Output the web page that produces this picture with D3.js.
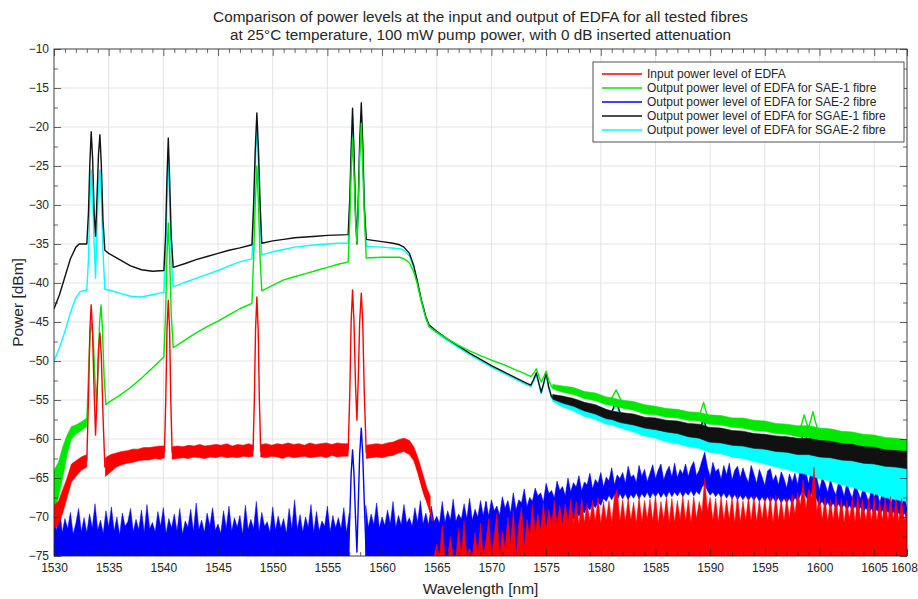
<!DOCTYPE html>
<meta charset="utf-8">
<script src="https://d3js.org/d3.v7.min.js"></script>
<style>
body { margin: 0; background: #fff; }
svg text { font-family: "Liberation Sans", Arial, Helvetica, sans-serif; fill: #262626; }
.axis path { display: none; }
.axis line { stroke: #262626; stroke-width: 0.7; }
.axis text { font-size: 12px; }
.grid line { stroke: #e3e3e3; stroke-width: 1; }
</style>
<div id="chart"></div>
<script>

// ---- data ----
var titleLines = [
  "Comparison of power levels at the input and output of EDFA for all tested fibres",
  "at 25\u00B0C temperature, 100 mW pump power, with 0 dB inserted attenuation"
];
var xTicks = [1530, 1535, 1540, 1545, 1550, 1555, 1560, 1565, 1570, 1575, 1580, 1585, 1590, 1595, 1600, 1605, 1608];
var yTicks = [-10, -15, -20, -25, -30, -35, -40, -45, -50, -55, -60, -65, -70, -75];
var legendLabels = [
  "Input power level of EDFA",
  "Output power level of EDFA for SAE-1 fibre",
  "Output power level of EDFA for SAE-2 fibre",
  "Output power level of EDFA for SGAE-1 fibre",
  "Output power level of EDFA for SGAE-2 fibre"
];
var seriesColors = ["#ff0000", "#00e800", "#0000ff", "#111111", "#00ffff"];

// SGAE-1 (black): smooth trace [nm, dBm]
var blackTrace = [[1530.0,-43.3],[1530.5,-41.5],[1531.0,-39.2],[1531.5,-36.9],[1532.0,-35.4],[1532.3,-35.0],[1533.0,-35.0],
  [1533.15,-31],[1533.27,-25],[1533.4,-20.6],[1533.53,-24],[1533.67,-31],[1533.8,-34.0],[1533.93,-29],[1534.07,-23.5],[1534.2,-21.0],
  [1534.33,-25],[1534.48,-32],[1534.65,-35.8],[1535,-36.2],[1536,-37.0],[1537,-37.8],[1538,-38.3],[1539,-38.5],[1540.05,-38.4],
  [1540.2,-34],[1540.32,-27],[1540.45,-21.4],[1540.58,-27],[1540.72,-34],[1540.9,-38.0],[1542,-37.5],[1543,-37.0],[1544,-36.6],
  [1545,-36.2],[1546,-35.8],[1547,-35.5],[1548.1,-35.1],[1548.25,-30],[1548.4,-23],[1548.55,-18.2],[1548.7,-23],[1548.85,-30],
  [1549.0,-34.9],[1550,-34.6],[1551,-34.4],[1552,-34.2],[1553,-34.1],[1554,-34.0],[1555,-33.9],[1556.9,-33.8],[1557.05,-29],
  [1557.17,-23],[1557.3,-17.6],[1557.43,-23],[1557.57,-31],[1557.7,-35.0],[1557.83,-29],[1557.95,-22],[1558.1,-16.9],[1558.23,-22],
  [1558.37,-30],[1558.55,-34.4],[1559,-34.5],[1560,-34.7],[1561,-34.9],[1561.6,-35.1],[1562.0,-35.4],[1562.5,-36.2],[1562.9,-37.8],
  [1563.2,-39.6],[1563.6,-42.2],[1564.0,-44.3],[1564.3,-45.4],[1565,-46.2],[1566,-47.2],[1567,-48.1],[1568,-49.0],[1569,-49.8],
  [1570,-50.6],[1571,-51.3],[1572,-52.0],[1573,-52.7],[1573.6,-53.1],[1573.85,-52.4],[1574.1,-51.5],[1574.35,-52.9],[1574.55,-54.0],
  [1574.8,-52.7],[1575.0,-51.5],[1575.25,-53.4],[1575.5,-54.6],[1578,-55.8],[1580.8,-56.9],[1581.1,-56.2],[1581.4,-55.0],[1581.7,-56.4],
  [1582,-57.2],[1585,-58.1],[1589.0,-59.0],[1589.2,-58.3],[1589.4,-57.2],[1589.6,-58.4],[1589.9,-59.4],[1595,-60.4],[1598.2,-60.9],
  [1598.4,-60.0],[1598.6,-58.6],[1598.8,-59.8],[1599.0,-60.6],[1599.2,-59.7],[1599.4,-58.5],[1599.6,-59.8],[1599.9,-61.0],[1603,-61.7],[1608,-62.4]];
// SGAE-1 noisy band [nm, low, high]
var blackBand = [[1575.6,-54.9,-54.3],[1576.5,-55.4,-54.5],[1577.5,-55.8,-54.8],[1578.5,-56.4,-55.3],[1579.5,-56.8,-55.6],[1580.5,-57.4,-56.2],
  [1581.0,-57.5,-56.4],[1581.8,-57.9,-56.6],[1583,-58.2,-56.8],[1584,-58.6,-57.2],[1585,-58.8,-57.3],[1586,-59.1,-57.6],[1587,-59.3,-57.7],
  [1588,-59.7,-58.0],[1589,-59.9,-58.1],[1589.9,-60.4,-58.5],[1591,-60.5,-58.6],[1592,-60.8,-58.9],[1593,-60.9,-59.0],[1594,-61.2,-59.3],
  [1595,-61.3,-59.4],[1596,-61.6,-59.6],[1597,-61.7,-59.7],[1598,-62.0,-59.9],[1599,-62.0,-59.9],[1600,-62.3,-60.1],[1601,-62.4,-60.2],
  [1602,-62.7,-60.4],[1603,-62.8,-60.4],[1604,-63.1,-60.6],[1605,-63.2,-60.6],[1606,-63.5,-60.9],[1607,-63.6,-60.9],[1608,-63.8,-61.1]];

// SGAE-2 (cyan)
var cyanTrace = [[1530.0,-50.0],[1530.5,-48.3],[1531.0,-46.2],[1531.5,-43.8],[1532.0,-41.9],[1532.4,-41.1],[1533.0,-40.9],
  [1533.15,-37],[1533.27,-30],[1533.4,-25.5],[1533.53,-29],[1533.67,-35],[1533.8,-39.4],[1533.93,-33],[1534.07,-27.5],[1534.2,-25.5],
  [1534.33,-29],[1534.48,-36],[1534.65,-40.8],[1535,-40.9],[1536,-41.3],[1537,-41.7],[1538,-41.8],[1539,-41.5],[1540.05,-41.2],
  [1540.2,-37],[1540.32,-30],[1540.45,-23.8],[1540.58,-30],[1540.72,-37],[1540.9,-40.5],[1542,-39.9],[1543,-39.4],[1544,-38.9],
  [1545,-38.4],[1546,-37.8],[1547,-37.3],[1548.1,-36.9],[1548.25,-32],[1548.4,-25],[1548.55,-20.0],[1548.7,-25],[1548.85,-32],
  [1549.0,-36.4],[1550,-36.0],[1551,-35.7],[1552,-35.4],[1554,-35.1],[1556,-34.9],[1556.9,-34.9],[1557.05,-30],[1557.17,-24],
  [1557.3,-18.7],[1557.43,-24],[1557.57,-31],[1557.7,-34.8],[1557.83,-30],[1557.95,-23],[1558.1,-18.2],[1558.23,-23],[1558.37,-30],
  [1558.55,-35.3],[1560,-35.4],[1561.6,-35.6],[1562.0,-35.8],[1562.5,-36.5],[1562.9,-38.0],[1563.2,-39.9],[1563.6,-42.4],
  [1564.0,-44.5],[1564.3,-45.6],[1565,-46.4],[1566,-47.4],[1567,-48.3],[1568,-49.2],[1569,-50.0],[1570,-50.8],[1571,-51.5],
  [1572,-52.2],[1573,-52.9],[1573.6,-53.3],[1573.85,-52.6],[1574.1,-51.8],[1574.35,-53.1],[1574.55,-54.2],[1574.8,-52.9],
  [1575.0,-51.8],[1575.25,-53.6],[1575.5,-54.8],[1578,-56.3],[1580.8,-57.4],[1581.1,-56.5],[1581.4,-55.5],[1581.7,-56.7],
  [1582,-57.8],[1585,-59.1],[1589.0,-60.2],[1589.2,-59.0],[1589.4,-57.8],[1589.6,-59.2],[1589.9,-60.6],[1595,-61.8],[1598.2,-62.6],
  [1598.4,-61.2],[1598.6,-60.0],[1598.8,-61.3],[1599.0,-62.4],[1599.2,-61.0],[1599.4,-59.8],[1599.6,-61.2],[1599.9,-63.0],[1604,-64.3],[1608,-65.6]];
var cyanBand = [[1575.6,-55.2,-54.4],[1576.5,-55.9,-54.8],[1577.5,-56.4,-55.1],[1578.5,-57.1,-55.7],[1579.5,-57.5,-56.0],[1580.5,-58.1,-56.6],
  [1581.0,-58.2,-56.8],[1581.8,-58.6,-57.0],[1583,-59.1,-57.4],[1584,-59.6,-58.0],[1585,-59.9,-58.3],[1586,-60.4,-58.7],[1587,-60.6,-58.8],
  [1588,-61.0,-59.1],[1589,-61.2,-59.2],[1589.9,-61.7,-59.6],[1591,-61.9,-59.7],[1592,-62.3,-60.0],[1593,-62.5,-60.0],[1594,-62.9,-60.3],
  [1595,-63.2,-60.4],[1596,-63.6,-60.7],[1597,-63.9,-60.8],[1598,-64.3,-61.1],[1599,-64.6,-61.2],[1600,-65.1,-61.5],[1601,-65.4,-61.6],
  [1602,-65.9,-62.0],[1603,-66.2,-62.1],[1604,-66.7,-62.4],[1605,-67.0,-62.5],[1606,-67.5,-62.8],[1607,-67.8,-62.9],[1608,-68.0,-63.2]];

// SAE-1 (green)
var greenBandLeft = [[1530.0,-69.5,-64.0],[1530.4,-67.5,-63.0],[1530.8,-65.0,-61.0],[1531.2,-62.0,-59.5],[1531.6,-60.0,-58.4],
  [1532.0,-59.4,-58.2],[1532.5,-58.9,-57.8],[1533.0,-58.4,-57.3]];
var greenTrace = [[1533.0,-57.8],[1533.15,-52],[1533.3,-46.5],[1533.45,-45.1],[1533.6,-47.5],[1533.75,-52.5],[1533.9,-55.4],
  [1534.03,-51],[1534.17,-45],[1534.3,-42.8],[1534.43,-46],[1534.58,-52],[1534.75,-55.6],[1535,-55.3],[1536,-54.4],[1537,-53.4],
  [1538,-52.2],[1539,-50.9],[1540.05,-49.5],[1540.2,-44],[1540.32,-37],[1540.45,-32.3],[1540.58,-37],[1540.72,-44],[1540.9,-48.3],
  [1542,-47.3],[1543,-46.4],[1544,-45.6],[1545,-44.9],[1546,-44.1],[1547,-43.3],[1548.1,-42.6],[1548.25,-37],[1548.4,-30],
  [1548.55,-25.0],[1548.7,-30],[1548.85,-37],[1549.0,-41.0],[1550,-40.3],[1551,-39.6],[1552,-39.2],[1553,-38.8],[1554,-38.4],
  [1555,-38.0],[1556,-37.6],[1556.9,-37.3],[1557.05,-32],[1557.17,-26],[1557.3,-21.4],[1557.43,-26],[1557.57,-32],[1557.7,-34.9],
  [1557.83,-30],[1557.95,-24],[1558.1,-19.5],[1558.23,-25],[1558.37,-31],[1558.55,-36.8],[1560,-36.7],[1561.6,-36.7],[1562.0,-36.9],
  [1562.5,-37.4],[1562.9,-38.6],[1563.2,-40.0],[1563.6,-42.4],[1564.0,-44.5],[1564.3,-45.6],[1565,-46.3],[1566,-47.2],[1567,-48.0],
  [1568,-48.7],[1569,-49.3],[1570,-49.9],[1571,-50.4],[1572,-51.0],[1573,-51.6],[1573.6,-52.0],[1573.85,-51.6],[1574.1,-51.0],
  [1574.35,-52.0],[1574.55,-52.7],[1574.8,-52.0],[1575.0,-51.3],[1575.25,-52.5],[1575.5,-53.3],[1578,-54.1],[1580.8,-55.1],
  [1581.1,-54.5],[1581.4,-53.7],[1581.7,-54.6],[1582,-55.4],[1585,-56.4],[1589.0,-57.1],[1589.2,-56.2],[1589.4,-55.3],[1589.6,-56.4],
  [1589.9,-57.4],[1595,-58.4],[1598.2,-58.9],[1598.4,-57.9],[1598.6,-56.9],[1598.8,-57.9],[1599.0,-58.6],[1599.2,-57.6],[1599.4,-56.5],
  [1599.6,-57.7],[1599.9,-59.0],[1604,-59.9],[1608,-60.8]];
var greenBand = [[1575.6,-53.6,-53.0],[1576.5,-54.0,-53.2],[1577.5,-54.3,-53.4],[1578.5,-54.8,-53.9],[1579.5,-55.1,-54.1],[1580.5,-55.6,-54.6],
  [1581.0,-55.7,-54.7],[1581.8,-56.0,-55.0],[1583,-56.3,-55.2],[1584,-56.8,-55.6],[1585,-56.9,-55.8],[1586,-57.2,-56.1],[1587,-57.3,-56.2],
  [1588,-57.6,-56.5],[1589,-57.7,-56.6],[1589.9,-58.1,-56.9],[1591,-58.2,-57.0],[1592,-58.5,-57.3],[1593,-58.6,-57.3],[1594,-58.9,-57.6],
  [1595,-59.0,-57.7],[1596,-59.3,-58.0],[1597,-59.4,-58.1],[1598,-59.7,-58.3],[1599,-59.8,-58.3],[1600,-60.1,-58.6],[1601,-60.2,-58.7],
  [1602,-60.5,-59.0],[1603,-60.6,-59.1],[1604,-60.9,-59.4],[1605,-61.0,-59.5],[1606,-61.3,-59.8],[1607,-61.4,-59.9],[1608,-61.5,-60.1]];

// SAE-2 (blue): noise tops [nm, high], filled down to the axis floor
var blueFillLeft = [
  [1530,-69.0],[1530.25,-71.8],[1530.5,-68.6],[1530.75,-72.0],[1531,-70.2],[1531.25,-71.5],[1531.5,-69.4],[1531.75,-72.2],
  [1532,-70.8],[1532.25,-68.9],[1532.5,-71.9],[1532.75,-70.1],[1533,-72.0],[1533.25,-69.6],[1533.5,-71.4],[1533.75,-68.3],
  [1534,-71.7],[1534.25,-70.4],[1534.5,-72.1],[1534.75,-69.2],[1535,-71.3],[1535.25,-68.7],[1535.5,-71.8],[1535.75,-70.0],
  [1536,-72.3],[1536.25,-69.5],[1536.5,-71.2],[1536.75,-70.6],[1537,-68.9],[1537.25,-71.9],[1537.5,-70.3],[1537.75,-71.6],
  [1538,-69.1],[1538.25,-72.0],[1538.5,-68.4],[1538.75,-71.5],[1539,-70.7],[1539.25,-71.9],[1539.5,-69.3],[1539.75,-71.2],
  [1540,-68.8],[1540.25,-72.1],[1540.5,-70.2],[1540.75,-71.4],[1541,-69.6],[1541.25,-71.8],[1541.5,-68.9],[1541.75,-72.2],
  [1542,-70.5],[1542.25,-71.3],[1542.5,-69.0],[1542.75,-71.9],[1543,-68.2],[1543.25,-71.6],[1543.5,-70.4],[1543.75,-72.0],
  [1544,-69.5],[1544.25,-71.2],[1544.5,-68.8],[1544.75,-71.7],[1545,-70.9],[1545.25,-72.1],[1545.5,-69.2],[1545.75,-71.4],
  [1546,-68.6],[1546.25,-71.8],[1546.5,-70.1],[1546.75,-71.3],[1547,-69.8],[1547.25,-72.2],[1547.5,-68.5],[1547.75,-71.6],
  [1548,-70.3],[1548.25,-71.5],[1548.5,-68.0],[1548.75,-71.9],[1549,-69.4],[1549.25,-71.2],[1549.5,-70.6],[1549.75,-72.0],
  [1550,-68.7],[1550.25,-71.7],[1550.5,-69.9],[1550.75,-71.4],[1551,-70.2],[1551.25,-72.1],[1551.5,-68.9],[1551.75,-71.5],
  [1552,-67.8],[1552.25,-71.6],[1552.5,-69.7],[1552.75,-71.9],[1553,-70.0],[1553.25,-71.3],[1553.5,-68.4],[1553.75,-72.0],
  [1554,-69.3],[1554.25,-71.8],[1554.5,-70.5],[1554.75,-71.2],[1555,-68.6],[1555.25,-71.9],[1555.5,-69.8],[1555.75,-71.4],
  [1556,-70.1],[1556.25,-71.5],[1556.5,-68.8],[1556.75,-72.0],[1557,-69.5]];
var blueFillMid = [
  [1558.5,-68.5],[1558.75,-71.3],[1559,-69.6],[1559.25,-71.0],[1559.5,-68.2],[1559.75,-71.4],[1560,-70.0],[1560.25,-71.1],
  [1560.5,-69.1],[1560.75,-70.9],[1561,-68.0],[1561.25,-71.3],[1561.5,-69.8],[1561.75,-71.0],[1562,-68.4],[1562.25,-70.8],
  [1562.5,-70.1],[1562.75,-71.2],[1563,-68.8],[1563.25,-70.7],[1563.5,-67.9],[1563.75,-70.9],[1564,-69.5],[1564.25,-71.0],
  [1564.5,-68.6],[1564.75,-70.6],[1565,-69.9],[1565.25,-70.8],[1565.5,-68.0],[1565.75,-70.7],[1566,-69.2],[1566.25,-70.4],
  [1566.5,-67.7],[1566.75,-70.5],[1567,-69.6],[1567.25,-70.3],[1567.5,-68.3],[1567.75,-70.2],[1568,-67.6],[1568.25,-70.4],
  [1568.5,-69.0],[1568.75,-70.0],[1569,-67.9],[1569.25,-69.8],[1569.5,-68.0]];
var bluePeaks = [[1556.9,-75],[1557.05,-70],[1557.17,-64.5],[1557.3,-61.4],[1557.43,-64.5],[1557.57,-70],[1557.7,-74.5],
  [1557.83,-68],[1557.95,-62],[1558.1,-58.6],[1558.23,-62],[1558.37,-68],[1558.55,-75]];
// [nm, low, high]
var blueBandRight = [
  [1569.5,-75,-68.0],[1569.75,-75,-69.9],
  [1570,-75,-67.8],[1570.25,-75,-69.2],[1570.5,-75,-68.6],[1570.75,-75,-69.8],
  [1571,-75,-67.4],[1571.25,-75,-68.9],[1571.5,-75,-67.9],[1571.75,-75,-69.5],
  [1572,-75,-66.9],[1572.25,-75,-69.1],[1572.5,-75,-67.8],[1572.75,-75,-68.2],
  [1573,-75,-66.4],[1573.25,-75,-68.7],[1573.5,-75,-67.5],[1573.75,-74.5,-68.0],
  [1574,-75,-66.3],[1574.25,-73.5,-67.3],[1574.5,-74.2,-66.9],[1574.75,-72.8,-68.1],
  [1575,-73.6,-65.7],[1575.25,-72.0,-67.0],[1575.5,-72.9,-66.6],[1575.75,-71.2,-67.6],
  [1576,-72.1,-65.4],[1576.25,-70.6,-66.6],[1576.5,-71.4,-66.1],[1576.75,-70.1,-67.3],
  [1577,-70.9,-65.0],[1577.25,-69.8,-66.8],[1577.5,-70.3,-65.6],[1577.75,-69.4,-66.2],
  [1578,-69.9,-64.7],[1578.25,-69.0,-66.7],[1578.5,-69.5,-65.5],[1578.75,-68.7,-65.9],
  [1579,-69.1,-64.4],[1579.25,-68.4,-66.4],[1579.5,-68.8,-65.2],[1579.75,-68.1,-65.7],
  [1580,-68.5,-64.3],[1580.25,-67.6,-66.2],[1580.5,-68.0,-64.9],[1580.75,-67.2,-65.4],
  [1581,-67.8,-63.7],[1581.25,-67.1,-65.9],[1581.5,-67.9,-64.6],[1581.75,-67.0,-65.1],
  [1582,-67.7,-64.3],[1582.25,-67.0,-65.7],[1582.5,-67.8,-63.5],[1582.75,-67.1,-64.9],
  [1583,-67.6,-64.6],[1583.25,-66.9,-65.6],[1583.5,-67.7,-63.4],[1583.75,-67.0,-64.8],
  [1584,-67.5,-63.9],[1584.25,-66.8,-65.5],[1584.5,-67.6,-64.4],[1584.75,-66.9,-63.3],
  [1585,-67.4,-65.1],[1585.25,-66.8,-64.0],[1585.5,-67.5,-63.2],[1585.75,-66.9,-65.3],
  [1586,-67.5,-64.2],[1586.25,-66.7,-63.5],[1586.5,-67.4,-64.9],[1586.75,-66.8,-63.1],
  [1587,-67.3,-65.0],[1587.25,-66.7,-63.9],[1587.5,-67.4,-64.5],[1587.75,-66.8,-63.2],
  [1588,-67.2,-64.8],[1588.25,-66.6,-63.6],[1588.5,-67.3,-62.9],[1588.75,-66.7,-64.7],
  [1589,-67.1,-64.0],[1589.25,-66.2,-62.8],[1589.5,-65.8,-61.7],[1589.75,-66.6,-63.6],
  [1590,-67.2,-64.9],[1590.25,-66.8,-63.0],[1590.5,-67.4,-64.2],[1590.75,-66.9,-63.8],
  [1591,-67.5,-65.2],[1591.25,-66.9,-63.4],[1591.5,-67.6,-64.6],[1591.75,-67.0,-63.1],
  [1592,-67.7,-65.3],[1592.25,-67.1,-64.0],[1592.5,-67.8,-63.5],[1592.75,-67.2,-65.0],
  [1593,-67.8,-63.7],[1593.25,-67.2,-64.8],[1593.5,-67.9,-65.6],[1593.75,-67.3,-63.4],
  [1594,-67.9,-64.5],[1594.25,-67.3,-65.7],[1594.5,-68.0,-63.9],[1594.75,-67.4,-64.9],
  [1595,-68.0,-66.0],[1595.25,-67.4,-64.1],[1595.5,-68.1,-63.8],[1595.75,-67.5,-65.4],
  [1596,-68.1,-64.6],[1596.25,-67.5,-65.9],[1596.5,-68.2,-64.2],[1596.75,-67.6,-65.1],
  [1597,-68.2,-66.3],[1597.25,-67.6,-64.5],[1597.5,-68.3,-65.5],[1597.75,-67.5,-64.4],
  [1598,-68.0,-65.9],[1598.25,-67.2,-63.8],[1598.5,-66.5,-62.2],[1598.75,-67.4,-64.2],
  [1599,-67.9,-65.8],[1599.25,-67.0,-63.9],[1599.5,-66.8,-63.0],[1599.75,-67.8,-65.0],
  [1600,-68.5,-66.6],[1600.25,-68.0,-65.0],[1600.5,-68.7,-65.7],[1600.75,-68.1,-66.9],
  [1601,-68.8,-65.2],[1601.25,-68.2,-66.4],[1601.5,-68.9,-67.2],[1601.75,-68.3,-65.5],
  [1602,-69.0,-66.1],[1602.25,-68.4,-67.4],[1602.5,-69.1,-65.6],[1602.75,-68.5,-66.8],
  [1603,-69.2,-67.6],[1603.25,-68.6,-65.9],[1603.5,-69.3,-66.7],[1603.75,-68.7,-67.7],
  [1604,-69.4,-66.2],[1604.25,-68.8,-67.1],[1604.5,-69.5,-68.1],[1604.75,-68.9,-66.4],
  [1605,-69.6,-67.5],[1605.25,-69.0,-66.5],[1605.5,-69.7,-68.3],[1605.75,-69.1,-66.8],
  [1606,-69.8,-67.9],[1606.25,-69.2,-66.6],[1606.5,-69.9,-68.5],[1606.75,-69.3,-67.2],
  [1607,-70.0,-68.2],[1607.25,-69.4,-66.9],[1607.5,-70.1,-68.7],[1607.75,-69.5,-67.3],
  [1608,-70.2,-68.9]];

// input (red)
var redBandLeft = [[1530.0,-71.5,-68.5],[1530.4,-71.0,-68.0],[1530.8,-69.5,-66.5],[1531.2,-67.5,-65.0],[1531.6,-65.5,-63.2],
  [1532.0,-64.8,-62.8],[1532.5,-64.0,-62.3],[1533.0,-63.6,-62.0]];
var redTrace = [[1533.0,-62.8],[1533.15,-55],[1533.28,-46],[1533.4,-42.8],[1533.52,-46],[1533.65,-53],[1533.8,-59.5],[1533.95,-54],
  [1534.07,-48.5],[1534.2,-46.4],[1534.33,-49.5],[1534.48,-57],[1534.65,-63.6],[1535.5,-62.9],[1537,-62.2],[1539,-61.8],[1540.1,-61.6],
  [1540.22,-55],[1540.33,-46],[1540.45,-42.2],[1540.57,-46],[1540.68,-55],[1540.8,-61.7],[1544,-61.6],[1548.2,-61.5],[1548.32,-55],
  [1548.43,-46],[1548.55,-41.8],[1548.67,-46],[1548.78,-55],[1548.9,-61.5],[1553,-61.4],[1556.9,-61.4],[1557.05,-54],[1557.17,-45],
  [1557.3,-40.9],[1557.43,-45],[1557.57,-53],[1557.7,-57.6],[1557.83,-52],[1557.95,-45],[1558.1,-41.3],[1558.23,-45],[1558.37,-54],
  [1558.55,-61.7],[1560,-61.5],[1561.5,-61.0],[1562.2,-60.7],[1562.7,-61.3],[1563.1,-63],[1563.5,-65.2],[1563.9,-67.2],[1564.3,-68.5],[1564.6,-70.5]];
var redPlateau = [
  [[1534.7,-64.8,-62.4],[1535.2,-64.2,-62.0],[1535.7,-63.6,-61.8],[1536.2,-63.3,-61.6],[1536.7,-63.1,-61.5],[1537.2,-63.0,-61.3],
   [1537.7,-62.8,-61.3],[1538.2,-62.7,-61.1],[1538.7,-62.7,-61.1],[1539.2,-62.5,-61.0],[1539.7,-62.6,-60.9],[1540.1,-62.4,-60.9]],
  [[1540.8,-62.6,-61.0],[1541.3,-62.5,-60.9],[1541.8,-62.4,-61.0],[1542.3,-62.5,-60.8],[1542.8,-62.3,-60.9],[1543.3,-62.4,-60.7],
   [1543.8,-62.5,-60.9],[1544.3,-62.3,-60.8],[1544.8,-62.4,-60.7],[1545.3,-62.2,-60.8],[1545.8,-62.4,-60.6],[1546.3,-62.3,-60.9],
   [1546.8,-62.4,-60.7],[1547.3,-62.2,-60.8],[1547.8,-62.3,-60.6],[1548.2,-62.2,-60.8]],
  [[1548.9,-62.3,-60.7],[1549.4,-62.4,-60.6],[1549.9,-62.2,-60.8],[1550.4,-62.3,-60.6],[1550.9,-62.5,-60.7],[1551.4,-62.2,-60.5],
   [1551.9,-62.4,-60.7],[1552.4,-62.3,-60.6],[1552.9,-62.2,-60.8],[1553.4,-62.4,-60.5],[1553.9,-62.3,-60.7],[1554.4,-62.2,-60.6],
   [1554.9,-62.4,-60.5],[1555.4,-62.1,-60.7],[1555.9,-62.3,-60.5],[1556.4,-62.2,-60.6],[1556.9,-62.2,-60.6]],
  [[1558.55,-62.5,-60.8],[1559.0,-62.4,-60.7],[1559.5,-62.3,-60.6],[1560.0,-62.4,-60.7],[1560.5,-62.2,-60.5],[1561.0,-62.1,-60.4],
   [1561.5,-61.8,-60.1],[1562.0,-61.6,-59.9],[1562.5,-62.0,-60.2],[1562.9,-62.8,-61.0],[1563.3,-64.5,-62.5],[1563.7,-66.6,-64.4],
   [1564.1,-68.2,-66.3],[1564.4,-69.5,-67.3]]
];
// red noise tops [nm, high], filled down to the axis floor
var redFillRight = [
  [1564.5,-75],[1564.75,-75],[1565,-73.5],[1565.25,-75],[1565.5,-71.0],[1565.75,-75],[1566,-75],[1566.25,-72.5],
  [1566.5,-75],[1566.75,-75],[1567,-71.5],[1567.25,-75],[1567.5,-70.5],[1567.75,-75],[1568,-74.0],[1568.25,-75],
  [1568.5,-72.0],[1568.75,-75],[1569,-70.8],[1569.25,-75],[1569.5,-73.0],[1569.75,-70.2],[1570,-75],[1570.25,-72.5],
  [1570.5,-69.5],[1570.75,-75],[1571,-71.8],[1571.25,-74.0],[1571.5,-70.0],[1571.75,-73.5],[1572,-69.2],[1572.25,-75],
  [1572.5,-71.0],[1572.75,-68.8],[1573,-74.0],[1573.25,-70.3],[1573.5,-72.5],[1573.75,-68.4],[1574,-72.0],[1574.25,-69.6],
  [1574.5,-71.8],[1574.75,-68.2],[1575,-71.5],[1575.25,-69.0],[1575.5,-71.2],[1575.75,-67.9],[1576,-70.9],[1576.25,-68.5],
  [1576.5,-71.0],[1576.75,-68.3],[1577,-70.6],[1577.25,-67.7],[1577.5,-70.8],[1577.75,-68.0],[1578,-70.9],[1578.25,-67.6],
  [1578.5,-70.7],[1578.75,-68.2],[1579,-70.5],[1579.25,-67.8],[1579.5,-70.6],[1579.75,-67.5],[1580,-70.8],[1580.25,-68.0],
  [1580.5,-70.4],[1580.75,-67.9],[1581,-70.7],[1581.25,-67.3],[1581.5,-66.5],[1581.75,-70.5],[1582,-67.8],[1582.25,-70.6],
  [1582.5,-67.6],[1582.75,-70.4],[1583,-68.1],[1583.25,-70.7],[1583.5,-67.4],[1583.75,-70.6],[1584,-67.9],[1584.25,-70.3],
  [1584.5,-67.7],[1584.75,-70.5],[1585,-67.2],[1585.25,-70.8],[1585.5,-68.0],[1585.75,-70.4],[1586,-67.5],[1586.25,-70.6],
  [1586.5,-67.6],[1586.75,-70.7],[1587,-67.9],[1587.25,-70.3],[1587.5,-67.3],[1587.75,-70.5],[1588,-67.8],[1588.25,-70.6],
  [1588.5,-67.4],[1588.75,-70.2],[1589,-68.0],[1589.25,-69.5],[1589.5,-65.0],[1589.75,-69.3],[1590,-67.5],[1590.25,-70.4],
  [1590.5,-67.6],[1590.75,-70.6],[1591,-67.3],[1591.25,-70.5],[1591.5,-67.8],[1591.75,-70.3],[1592,-67.4],[1592.25,-70.7],
  [1592.5,-67.2],[1592.75,-70.6],[1593,-67.9],[1593.25,-70.4],[1593.5,-67.5],[1593.75,-70.5],[1594,-67.3],[1594.25,-70.6],
  [1594.5,-67.8],[1594.75,-70.3],[1595,-67.6],[1595.25,-70.5],[1595.5,-67.4],[1595.75,-70.7],[1596,-67.2],[1596.25,-70.4],
  [1596.5,-67.7],[1596.75,-70.5],[1597,-67.5],[1597.25,-70.2],[1597.5,-67.1],[1597.75,-69.6],[1598,-66.8],[1598.25,-68.5],
  [1598.5,-65.3],[1598.75,-68.9],[1599,-66.4],[1599.25,-67.5],[1599.5,-63.6],[1599.75,-69.2],[1600,-67.4],[1600.25,-70.3],
  [1600.5,-67.5],[1600.75,-70.6],[1601,-67.8],[1601.25,-70.4],[1601.5,-67.3],[1601.75,-70.5],[1602,-67.6],[1602.25,-70.7],
  [1602.5,-67.9],[1602.75,-70.3],[1603,-67.4],[1603.25,-70.6],[1603.5,-67.2],[1603.75,-70.5],[1603.9,-67.7],[1604.25,-70.4],
  [1604.5,-67.6],[1604.75,-70.6],[1605,-67.3],[1605.25,-70.5],[1605.5,-67.8],[1605.75,-70.4],[1606,-67.5],[1606.25,-70.6],
  [1606.5,-67.4],[1606.75,-70.3],[1607,-67.7],[1607.25,-70.5],[1607.5,-67.6],[1607.75,-70.4],[1608,-69.2]];

// ---- layout ----
var W = 918, H = 599;
var margin = {top: 49, right: 11, bottom: 43, left: 54};
var width = W - margin.left - margin.right,
    height = H - margin.top - margin.bottom;

var svg = d3.select("#chart").append("svg")
    .attr("width", W)
    .attr("height", H);

var g = svg.append("g")
    .attr("transform", "translate(" + margin.left + "," + margin.top + ")");

var x = d3.scaleLinear().domain([1530, 1608]).range([0, width]);
var y = d3.scaleLinear().domain([-75, -10]).range([height, 0]);

// grid
g.append("g").attr("class", "grid")
  .selectAll("line").data(xTicks).enter().append("line")
    .attr("x1", d => x(d)).attr("x2", d => x(d))
    .attr("y1", 0).attr("y2", height);
g.append("g").attr("class", "grid")
  .selectAll("line").data(yTicks).enter().append("line")
    .attr("y1", d => y(d)).attr("y2", d => y(d))
    .attr("x1", 0).attr("x2", width);

// clip
svg.append("defs").append("clipPath").attr("id", "plotclip")
  .append("rect").attr("width", width).attr("height", height);
var plot = g.append("g").attr("clip-path", "url(#plotclip)");

var line = d3.line().x(d => x(d[0])).y(d => y(d[1]));
var band = d3.area().x(d => x(d[0])).y0(d => y(d[1])).y1(d => y(d[2]));
var floorFill = d3.area().x(d => x(d[0])).y0(y(-75)).y1(d => y(d[1]));

function drawBand(data, color) {
  plot.append("path").attr("d", band(data))
    .attr("fill", color).attr("stroke", color).attr("stroke-width", 0.6);
}
function drawFill(data, color) {
  plot.append("path").attr("d", floorFill(data))
    .attr("fill", color).attr("stroke", color).attr("stroke-width", 0.5);
}
function drawLine(data, color) {
  plot.append("path").attr("d", line(data))
    .attr("fill", "none").attr("stroke", color)
    .attr("stroke-width", 1.4).attr("stroke-linejoin", "round");
}

// blue first, then cyan, black, green, red on top
drawFill(blueFillLeft, seriesColors[2]);
drawFill(blueFillMid, seriesColors[2]);
drawBand(blueBandRight, seriesColors[2]);
drawLine(bluePeaks, seriesColors[2]);

drawBand(cyanBand, seriesColors[4]);
drawLine(cyanTrace, seriesColors[4]);

drawBand(blackBand, seriesColors[3]);
drawLine(blackTrace, seriesColors[3]);

drawBand(greenBandLeft, seriesColors[1]);
drawBand(greenBand, seriesColors[1]);
drawLine(greenTrace, seriesColors[1]);

drawBand(redBandLeft, seriesColors[0]);
redPlateau.forEach(function(seg) { drawBand(seg, seriesColors[0]); });
drawFill(redFillRight, seriesColors[0]);
drawLine(redTrace, seriesColors[0]);

// axes: ticks inside on all four sides
var xMinor = d3.range(1531, 1608, 1).filter(v => xTicks.indexOf(v) < 0);
var yMinor = d3.range(-72.5, -10, 5);

var xAxisBottom = g.append("g").attr("class", "axis")
  .attr("transform", "translate(0," + height + ")")
  .call(d3.axisBottom(x).tickValues(xTicks).tickFormat(d3.format("d")).tickSize(-7).tickPadding(7));
// last label sits against the right edge, nudge it in like the reference
xAxisBottom.selectAll(".tick text").filter(d => d === 1608).attr("dx", "-3");
g.append("g").attr("class", "axis")
  .attr("transform", "translate(0," + height + ")")
  .call(d3.axisBottom(x).tickValues(xMinor).tickFormat("").tickSize(-4));
g.append("g").attr("class", "axis")
  .call(d3.axisTop(x).tickValues(xTicks).tickFormat("").tickSize(-7));
g.append("g").attr("class", "axis")
  .call(d3.axisTop(x).tickValues(xMinor).tickFormat("").tickSize(-4));

g.append("g").attr("class", "axis")
  .call(d3.axisLeft(y).tickValues(yTicks).tickFormat(d3.format("d")).tickSize(-7).tickPadding(5));
g.append("g").attr("class", "axis")
  .call(d3.axisLeft(y).tickValues(yMinor).tickFormat("").tickSize(-4));
g.append("g").attr("class", "axis")
  .attr("transform", "translate(" + width + ",0)")
  .call(d3.axisRight(y).tickValues(yTicks).tickFormat("").tickSize(-7));
g.append("g").attr("class", "axis")
  .attr("transform", "translate(" + width + ",0)")
  .call(d3.axisRight(y).tickValues(yMinor).tickFormat("").tickSize(-4));

g.selectAll(".axis text").attr("fill", "#262626");

// box
g.append("rect")
  .attr("width", width).attr("height", height)
  .attr("fill", "none").attr("stroke", "#262626").attr("stroke-width", 0.8);

// title + labels
svg.selectAll(".title").data(titleLines).enter().append("text")
  .attr("class", "title")
  .attr("x", margin.left + width / 2)
  .attr("y", (d, i) => 22 + i * 18)
  .attr("text-anchor", "middle")
  .style("font-size", "15.3px")
  .text(d => d);

svg.append("text")
  .attr("x", margin.left + width / 2)
  .attr("y", 594)
  .attr("text-anchor", "middle")
  .style("font-size", "15.5px")
  .text("Wavelength [nm]");

svg.append("text")
  .attr("transform", "translate(23," + (margin.top + height / 2) + ") rotate(-90)")
  .attr("text-anchor", "middle")
  .style("font-size", "15.5px")
  .text("Power [dBm]");

// legend
var legend = svg.append("g").attr("transform", "translate(593,62)");
legend.append("rect")
  .attr("width", 311).attr("height", 80)
  .attr("fill", "#fff").attr("stroke", "#262626").attr("stroke-width", 0.8);
var items = legend.selectAll(".item").data(legendLabels).enter().append("g")
  .attr("transform", (d, i) => "translate(0," + (12 + i * 14) + ")");
items.append("line")
  .attr("x1", 9).attr("x2", 49)
  .attr("stroke", (d, i) => seriesColors[i]).attr("stroke-width", 1.3);
items.append("text")
  .attr("x", 54).attr("dy", "0.35em")
  .style("font-size", "12px")
  .text(d => d);

</script>
